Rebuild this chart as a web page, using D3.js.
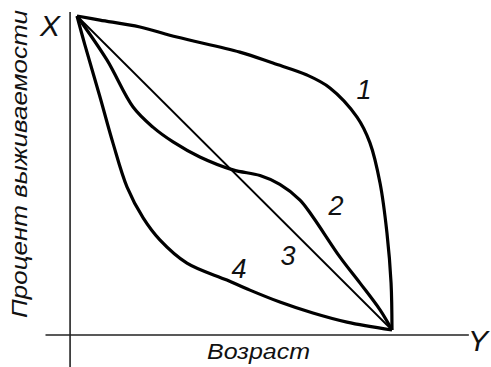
<!DOCTYPE html>
<html><head><meta charset="utf-8">
<script src="https://cdn.jsdelivr.net/npm/d3@7"></script>
<style>body{margin:0;background:#fff}svg{display:block}text{font-family:"Liberation Sans",Arial,sans-serif;font-style:italic;fill:#111}</style>
</head><body><svg id="c" width="491" height="367"></svg>
<script>
// Age (x, % of lifespan) and survival percent (y)
const curve1X = [0, 7.3, 20, 31.7, 51.7, 62.2, 73.0, 80.3, 88.9, 93.0, 96.2, 98.4, 99.7, 100];
const curve1Y = [100, 98.7, 96.5, 93.3, 88.5, 85.0, 81.2, 77.1, 67.8, 59.6, 46.8, 30.9, 15, 0];
const curve2X = [0, 9.5, 17.8, 24.1, 30.5, 39.0, 49.5, 58.1, 64.4, 70.8, 74.9, 83.5, 89.8, 96.2, 100];
const curve2Y = [100, 86.0, 71.0, 64.6, 59.9, 55.1, 51.0, 49.2, 46.4, 41.4, 36.0, 23.2, 15.0, 6.4, 0];
const curve3X = [0, 100];
const curve3Y = [100, 0];
const curve4X = [0, 2.5, 7.3, 11.4, 15.9, 21.0, 26.3, 34.9, 47.6, 54.9, 64.4, 74.9, 85.7, 100];
const curve4Y = [100, 90.8, 74.2, 59.6, 45.5, 35.7, 28.7, 21.3, 15.9, 12.7, 8.9, 5.4, 2.5, 0];
const curveNames = ["1", "2", "3", "4"];
const labelX = [91.1, 82.2, 67.0, 51.4];
const labelY = [76.4, 39.5, 23.6, 19.4];
const xTitle = "Возраст";
const yTitle = "Процент выживаемости";
const xAxisName = "Y";
const yAxisName = "X";

const svg = d3.select("#c");
const x = d3.scaleLinear().domain([0, 100]).range([77, 392]);
const y = d3.scaleLinear().domain([0, 100]).range([330, 16]);

// axes
svg.append("line").attr("x1", x(-2.2)).attr("x2", x(-2.2)).attr("y1", y(101.3)).attr("y2", 367)
  .attr("stroke", "#222").attr("stroke-width", 1.6);
svg.append("line").attr("x1", x(-10)).attr("x2", x(124.4)).attr("y1", y(-1.6)).attr("y2", y(-1.6))
  .attr("stroke", "#222").attr("stroke-width", 1.6);

const series = [
  [curve1X, curve1Y, 3.2],
  [curve2X, curve2Y, 3.2],
  [curve3X, curve3Y, 1.8],
  [curve4X, curve4Y, 3.2]
];
const line = d3.line().x(d => x(d[0])).y(d => y(d[1])).curve(d3.curveCatmullRom.alpha(0.5));
series.forEach(([xs, ys, w]) => {
  svg.append("path").datum(xs.map((v, i) => [v, ys[i]]))
    .attr("d", line).attr("fill", "none").attr("stroke", "#000")
    .attr("stroke-width", w).attr("stroke-linejoin", "miter");
});

curveNames.forEach((n, i) => {
  svg.append("text").attr("x", x(labelX[i])).attr("y", y(labelY[i]))
    .attr("text-anchor", "middle").attr("dominant-baseline", "central")
    .attr("font-size", 27).text(n);
});

svg.append("text").attr("x", 50).attr("y", 25).attr("text-anchor", "middle")
  .attr("dominant-baseline", "central").attr("font-size", 30).text(yAxisName);
svg.append("text").attr("x", 478).attr("y", 340).attr("text-anchor", "middle")
  .attr("dominant-baseline", "central").attr("font-size", 30).text(xAxisName);
svg.append("text").attr("x", 207).attr("y", 359)
  .attr("font-size", 22).attr("textLength", 103).attr("lengthAdjust", "spacingAndGlyphs").text(xTitle);
svg.append("text").attr("transform", "translate(27,318) rotate(-90)")
  .attr("font-size", 22).attr("textLength", 308).attr("lengthAdjust", "spacingAndGlyphs").text(yTitle);
</script></body></html>
